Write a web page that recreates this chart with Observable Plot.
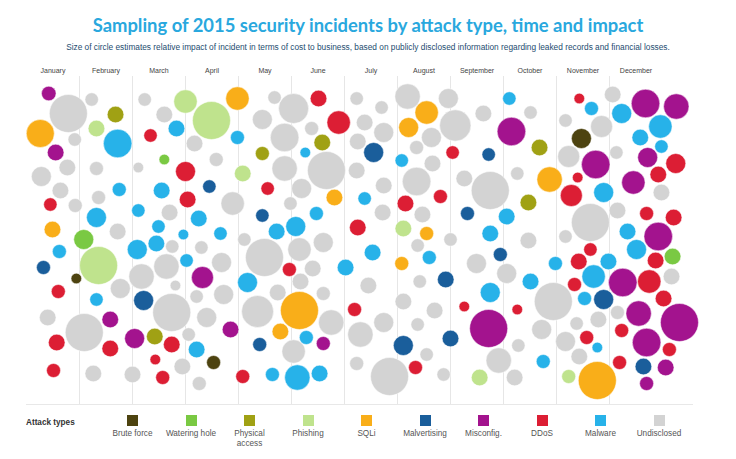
<!DOCTYPE html>
<html><head><meta charset="utf-8">
<script src="https://cdn.jsdelivr.net/npm/d3@7"></script>
<script src="https://cdn.jsdelivr.net/npm/@observablehq/plot@0.6"></script>
<style>
body{margin:0;background:#fff;width:736px;height:459px;overflow:hidden;position:relative;font-family:"Liberation Sans",Arial,sans-serif}
#title{position:absolute;top:14px;left:0;width:736px;text-align:center;font-family:Lato,"Open Sans",sans-serif;font-weight:700;font-size:18.4px;color:#29a8de;white-space:nowrap}
#subtitle{position:absolute;top:42px;left:0;width:736px;text-align:center;font-size:8.3px;color:#1d4c6f;white-space:nowrap}
#chart{position:absolute;top:58px;left:0}
#baseline{position:absolute;top:404px;left:26px;width:667px;height:1px;background:#e8e8e8}
#legend{position:absolute;top:405px;left:0;width:736px;height:54px}
#legend .lab{position:absolute;left:26px;top:13px;font-size:8.2px;font-weight:700;color:#333}
#legend .item{position:absolute;top:10px;width:58px;text-align:center;font-size:8.2px;color:#555;line-height:10px}
#legend .sw{width:11px;height:11px;margin:0 auto 3px auto}
</style></head>
<body>
<div id="title">Sampling of 2015 security incidents by attack type, time and impact</div>
<div id="subtitle">Size of circle estimates relative impact of incident in terms of cost to business, based on publicly disclosed information regarding leaked records and financial losses.</div>
<div id="chart"></div>
<div id="baseline"></div>
<div id="legend"></div>
<script>
// month names (x axis), positions in month units: month i spans [i, i+1)
const months = ["January","February","March","April","May","June","July","August","September","October","November","December"];
const types = ["Brute force","Watering hole","Physical\naccess","Phishing","SQLi","Malvertising","Misconfig.","DDoS","Malware","Undisclosed"];
const colors = ["#4d4310","#7ac943","#a0a114","#bfe38d","#f9ae19","#1a5e9b","#a3138e","#dc1e34","#27b2e9","#d3d3d3"];

// each incident: [month position, vertical jitter, impact]
const bruteForce = [[0.94,278,28],[3.53,362,49],[10.47,138,100]];
const wateringHole = [[1.08,239,100],[2.60,159,28],[12.19,256,69]];
const physicalAccess = [[1.68,114,69],[2.42,336,69],[4.45,153,49],[5.58,142,69],[9.68,147,69],[9.47,202,69]];
const phishing = [[1.32,128,69],[1.36,265,361],[3.00,101,137],[3.49,120,361],[4.08,173,69],[7.11,228,69],[8.55,377,69],[10.23,376,49]];
const sqli = [[0.26,133,196],[0.49,229,69],[3.98,98,137],[5.15,310,361],[4.79,331,69],[5.81,197,69],[7.55,112,137],[7.21,127,100],[7.55,233,49],[7.08,263,49],[9.87,179,161],[10.77,380,361]];
const malvertising = [[0.32,267,49],[2.21,300,100],[3.45,186,45],[4.45,215,45],[4.40,344,49],[6.55,152,100],[7.91,279,69],[7.11,345,100],[8.00,338,69],[8.72,154,45],[8.32,213,49],[8.94,254,49],[10.89,299,100],[11.64,366,69]];
const misconfig = [[0.42,93,53],[0.55,152,69],[1.58,319,69],[2.04,338,100],[3.32,277,121],[3.85,329,69],[5.60,343,49],[8.72,328,361],[9.15,131,204],[10.74,164,204],[11.68,103,204],[12.26,106,161],[11.72,157,100],[11.45,182,137],[11.92,236,204],[11.25,282,204],[11.55,313,161],[12.32,322,361],[11.70,342,204],[12.06,367,69],[11.70,383,49]];
const ddos = [[0.45,204,45],[0.60,291,49],[0.57,342,69],[1.58,348,69],[0.51,370,49],[2.34,135,45],[3.00,171,100],[3.04,199,69],[2.74,344,69],[2.43,359,28],[2.57,377,49],[4.55,188,45],[4.96,269,49],[4.08,376,49],[5.51,98,69],[5.89,122,137],[6.25,227,69],[6.19,309,49],[7.81,196,49],[7.15,203,69],[7.34,367,49],[8.04,152,45],[8.26,306,28],[9.26,309,28],[10.43,98,28],[10.40,177,28],[10.28,195,121],[10.64,249,45],[10.42,261,69],[10.34,284,49],[10.57,337,49],[12.25,163,100],[11.92,174,69],[11.70,213,49],[12.21,217,69],[11.87,260,69],[11.75,281,137],[12.02,298,69],[11.23,330,49],[12.13,349,49],[11.19,362,49]];
const malware = [[1.72,143,204],[1.75,189,49],[1.32,217,100],[0.62,251,49],[1.32,299,45],[2.83,128,69],[2.55,190,69],[2.11,210,45],[2.49,226,45],[2.96,234,28],[2.09,249,100],[2.45,243,69],[3.02,260,45],[3.98,137,49],[3.25,218,69],[3.66,233,45],[3.21,349,69],[5.26,152,28],[4.72,231,69],[5.08,226,100],[4.17,282,100],[4.64,374,49],[5.11,377,161],[5.47,213,49],[5.28,337,49],[5.53,373,69],[6.02,267,69],[6.38,198,45],[6.53,252,69],[7.08,160,45],[7.60,257,49],[9.06,216,69],[8.75,233,69],[8.75,292,100],[9.11,98,45],[9.51,281,69],[9.75,361,49],[9.98,263,49],[10.66,108,49],[10.89,192,100],[10.98,261,69],[10.70,276,137],[10.53,298,49],[10.77,347,28],[11.23,113,100],[11.96,126,137],[11.58,137,69],[11.98,146,45],[11.34,231,69],[11.51,249,100]];
const undisclosed = [[0.79,113,361],[1.23,99,45],[0.91,139,45],[0.77,167,69],[1.32,168,49],[0.28,176,100],[0.64,190,69],[0.92,205,49],[1.36,197,49],[1.72,231,69],[1.77,288,100],[0.40,317,69],[1.09,332,361],[1.26,373,69],[2.23,99,45],[2.60,114,69],[3.17,143,69],[2.11,167,28],[2.70,212,69],[2.75,246,45],[2.17,276,161],[2.64,266,161],[2.81,285,28],[2.74,312,361],[3.06,334,45],[2.94,366,69],[2.00,374,69],[3.58,159,49],[3.89,203,137],[3.30,247,45],[3.68,262,100],[3.21,296,45],[3.72,294,100],[3.40,317,100],[3.26,383,49],[4.11,239,45],[4.68,97,45],[4.45,119,100],[5.04,108,225],[4.87,137,204],[5.38,128,49],[4.87,168,161],[5.19,188,100],[4.98,203,45],[4.49,257,361],[5.15,249,137],[4.74,292,69],[4.36,311,256],[5.04,351,137],[5.66,170,361],[5.60,242,100],[5.40,268,69],[5.17,281,69],[5.60,293,49],[5.75,322,161],[6.30,334,161],[6.23,363,49],[6.23,98,45],[6.38,122,69],[6.25,141,69],[6.23,170,69],[6.70,107,45],[6.74,132,100],[6.74,185,69],[6.72,212,69],[6.45,285,69],[6.74,322,100],[6.85,376,361],[7.19,96,161],[7.64,137,100],[7.36,147,49],[7.66,163,69],[7.36,181,204],[7.47,214,69],[7.38,245,45],[7.42,281,45],[7.11,301,69],[7.70,310,69],[7.38,324,45],[7.55,354,45],[7.87,374,45],[8.00,239,45],[7.96,98,100],[8.09,125,246],[8.62,113,69],[8.26,178,69],[8.75,190,361],[8.49,263,100],[9.06,273,100],[8.91,360,161],[9.21,377,69],[9.28,345,45],[9.51,112,45],[9.26,173,45],[9.47,240,69],[9.94,301,361],[9.72,329,100],[10.17,341,100],[10.17,120,45],[10.85,126,121],[10.23,156,121],[10.64,222,361],[10.17,236,45],[10.79,319,69],[10.38,323,45],[10.43,356,69],[11.06,94,69],[11.13,152,45],[11.98,192,69],[11.15,210,69],[12.17,276,69],[11.15,312,49]];

const series = [bruteForce, wateringHole, physicalAccess, phishing, sqli, malvertising, misconfig, ddos, malware, undisclosed];
const incidents = series.flatMap((arr, i) => arr.map(([m, y, v]) => ({m, y, v, type: types[i]})));
const dividers = d3.range(1, 12);
const monthTicks = d3.range(12).map(i => i + 0.5);

const chart = Plot.plot({
  width: 736,
  height: 347,
  marginTop: 15, marginBottom: 0, marginLeft: 0, marginRight: 0,
  style: {fontFamily: '"Liberation Sans", Arial, sans-serif', background: "transparent"},
  x: {domain: [0, 12], range: [26, 662]},
  y: {domain: [58, 405], range: [0, 347], axis: null},
  r: {type: "sqrt", domain: [0, 400], range: [0, 20]},
  color: {domain: types, range: colors},
  marks: [
    Plot.ruleX(dividers, {y1: 76, y2: 405, stroke: "#e6e6e6", strokeWidth: 1}),
    Plot.axisX(monthTicks, {anchor: "top", tickSize: 0, tickPadding: 1, fontSize: 7, fill: "#444",
      tickFormat: d => months[Math.floor(d)], label: null}),
    Plot.dot(incidents, {x: "m", y: "y", r: "v", fill: "type", stroke: "white", strokeWidth: 0.5})
  ]
});
document.getElementById("chart").appendChild(chart);

const legend = document.getElementById("legend");
const lab = document.createElement("div");
lab.className = "lab"; lab.textContent = "Attack types";
legend.appendChild(lab);
types.forEach((t, i) => {
  const it = document.createElement("div");
  it.className = "item";
  it.style.left = (103.5 + 58.5 * i) + "px";
  const sw = document.createElement("div");
  sw.className = "sw"; sw.style.background = colors[i];
  it.appendChild(sw);
  t.split("\n").forEach(line => {
    const l = document.createElement("div");
    l.textContent = line;
    it.appendChild(l);
  });
  legend.appendChild(it);
});
</script>
</body></html>
